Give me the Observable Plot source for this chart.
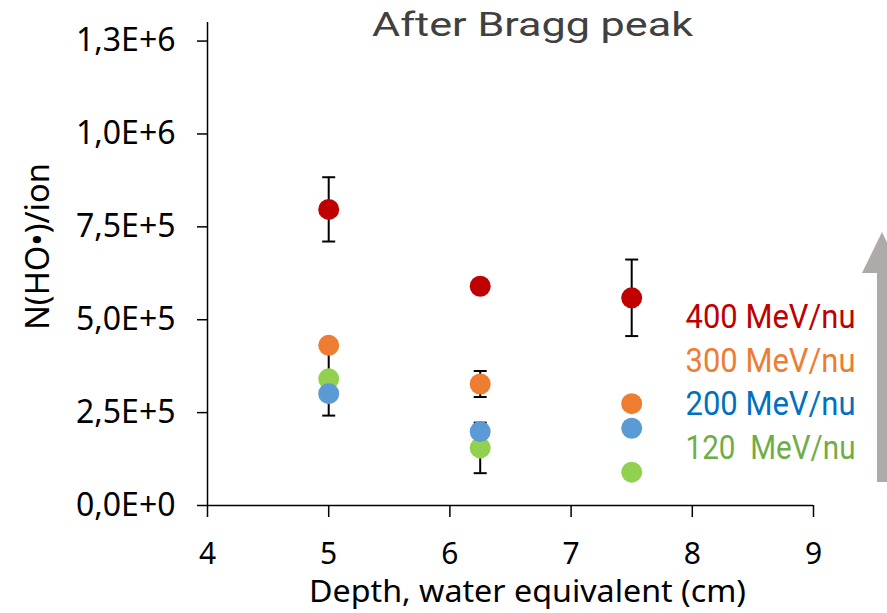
<!DOCTYPE html>
<html>
<head>
<meta charset="utf-8">
<script src="https://cdn.jsdelivr.net/npm/d3@7"></script>
<script src="https://cdn.jsdelivr.net/npm/@observablehq/plot@0.6"></script>
<style>
  html, body { margin: 0; padding: 0; background: #fff; }
  #wrap { position: relative; width: 887px; height: 613px; overflow: hidden; }
  #wrap svg text { white-space: pre; }
  #deco { position: absolute; left: 0; top: 0; pointer-events: none; }
</style>
</head>
<body>
<div id="wrap">
  <div id="chart"></div>
  <svg id="deco" width="887" height="613">
    <polygon points="877,482 887,482 887,273 902,273 882,232 862,273 877,273" fill="#AEAAAA"/>
  </svg>
</div>
<script>
// ---- data ----
const depths = [5, 6.25, 7.5];
const seriesNames = ["400 MeV/nu", "300 MeV/nu", "200 MeV/nu", "120  MeV/nu"];
const n400 = [797000, 590000, 559000];
const err400 = [86500, null, 103000];
const n300 = [431000, 327000, 274000];
const err300 = [null, 35000, null];
const n200 = [301000, 199000, 208000];
const err200 = [null, null, null];
const n120 = [341000, 155000, 89700];
const err120 = [99000, 68000, null];
const dotColors = ["#C00000", "#ED7D31", "#5B9BD5", "#92D050"];
const labelColors = ["#C00000", "#ED7D31", "#0070C0", "#70AD47"];
const xTicks = [4, 5, 6, 7, 8, 9];
const yTicks = [0, 250000, 500000, 750000, 1000000, 1250000];
const titleText = "After Bragg peak";
const xLabel = "Depth, water equivalent (cm)";
const yLabel = "N(HO\u2022)/ion";

const values = [n400, n300, n200, n120];
const errs = [err400, err300, err200, err120];

// draw order: 120 first, 400 last
const order = [3, 2, 1, 0];
const points = [];
const bars = [];
for (const s of order) {
  depths.forEach((x, i) => {
    points.push({series: seriesNames[s], x, y: values[s][i]});
    const e = errs[s][i];
    if (e != null) bars.push({series: seriesNames[s], x, lo: values[s][i] - e, hi: values[s][i] + e});
  });
}

const fmt = d => d.toExponential(1).replace(".", ",").replace("e", "E");
const capSymbol = { draw(ctx) { ctx.moveTo(-6.5, 0); ctx.lineTo(6.5, 0); } };

const plot = Plot.plot({
  width: 887,
  height: 613,
  marginLeft: 207,
  marginRight: 74,
  marginTop: 22,
  marginBottom: 108,
  style: {fontFamily: "'Noto Sans', sans-serif", color: "black", background: "white"},
  x: {domain: [4, 9]},
  y: {domain: [0, 1300000]},
  color: {domain: seriesNames, range: dotColors},
  marks: [
    Plot.ruleX([4], {stroke: "black", strokeWidth: 1.5}),
    Plot.ruleY([0], {stroke: "black", strokeWidth: 1.5}),
    Plot.axisX({ticks: xTicks, tickFormat: d => String(d), tickSize: 12, tickPadding: 25, fontSize: 30, strokeWidth: 1.5, label: null}),
    Plot.axisY({ticks: yTicks, tickFormat: fmt, tickSize: 10, tickPadding: 22, fontSize: 32, strokeWidth: 1.5, label: null}),
    Plot.ruleX(bars, {x: "x", y1: "lo", y2: "hi", stroke: "black", strokeWidth: 2}),
    Plot.dot(bars, {x: "x", y: "lo", symbol: capSymbol, stroke: "black", strokeWidth: 2, fill: "none", r: 5}),
    Plot.dot(bars, {x: "x", y: "hi", symbol: capSymbol, stroke: "black", strokeWidth: 2, fill: "none", r: 5}),
    Plot.dot(points, {x: "x", y: "y", fill: "series", r: 10.5}),
    Plot.text([titleText], {frameAnchor: "top", dx: 22, dy: 3, fontSize: 33, fill: "#404040", fontFamily: "Roboto", className: "title-text", lineAnchor: "middle"}),
    Plot.text([xLabel], {frameAnchor: "bottom", dx: 17, dy: 96, fontSize: 30, fill: "black", className: "xlab-text"}),
    Plot.text([yLabel], {frameAnchor: "left", dx: -169, dy: 66, rotate: -90, textAnchor: "start", fontSize: 32, fill: "black", className: "ylab-text"}),
    ...seriesNames.map((name, i) => Plot.text([name], {
      frameAnchor: "top-left", dx: 478, dy: 295 + i * 43.7, textAnchor: "start", lineAnchor: "middle",
      fontSize: 33, fontFamily: "Roboto", fill: labelColors[i], className: "legend-text"
    }))
  ]
});

document.getElementById("chart").appendChild(plot);
const svg = d3.select(plot);
svg.selectAll(".title-text text").attr("textLength", 321).attr("lengthAdjust", "spacingAndGlyphs");
svg.selectAll(".legend-text text").attr("textLength", 170).attr("lengthAdjust", "spacingAndGlyphs");
svg.selectAll(".xlab-text text").attr("textLength", 437).attr("lengthAdjust", "spacingAndGlyphs");
svg.selectAll(".ylab-text text").attr("textLength", 167).attr("lengthAdjust", "spacingAndGlyphs");
</script>
</body>
</html>
